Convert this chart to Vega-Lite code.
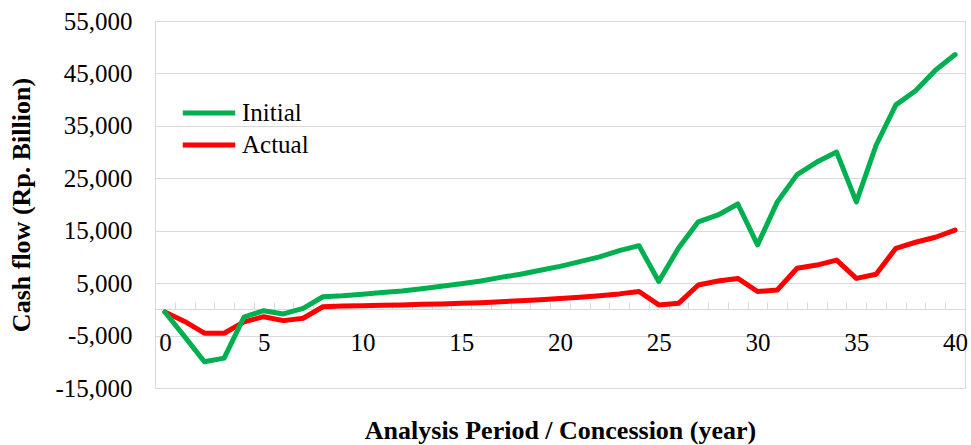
{
  "$schema": "https://vega.github.io/schema/vega-lite/v6.json",
  "width": 810,
  "height": 367,
  "autosize": {"type": "none"},
  "padding": {"left": 155, "top": 21, "right": 6, "bottom": 57},
  "background": "white",
  "config": {
    "view": {"stroke": "#d9d9d9", "strokeWidth": 1},
    "font": "Liberation Serif",
    "axis": {"labelFont": "Liberation Serif", "titleFont": "Liberation Serif", "labelColor": "black", "titleColor": "black"}
  },
  "data": {
    "values": [
      {"year": 0, "series": "Initial", "value": -500},
      {"year": 1, "series": "Initial", "value": -5200},
      {"year": 2, "series": "Initial", "value": -10000},
      {"year": 3, "series": "Initial", "value": -9300},
      {"year": 4, "series": "Initial", "value": -1500},
      {"year": 5, "series": "Initial", "value": -250},
      {"year": 6, "series": "Initial", "value": -870},
      {"year": 7, "series": "Initial", "value": 200},
      {"year": 8, "series": "Initial", "value": 2400},
      {"year": 9, "series": "Initial", "value": 2600},
      {"year": 10, "series": "Initial", "value": 2900},
      {"year": 11, "series": "Initial", "value": 3200},
      {"year": 12, "series": "Initial", "value": 3500},
      {"year": 13, "series": "Initial", "value": 3950},
      {"year": 14, "series": "Initial", "value": 4400},
      {"year": 15, "series": "Initial", "value": 4900},
      {"year": 16, "series": "Initial", "value": 5400},
      {"year": 17, "series": "Initial", "value": 6100},
      {"year": 18, "series": "Initial", "value": 6700},
      {"year": 19, "series": "Initial", "value": 7450},
      {"year": 20, "series": "Initial", "value": 8200},
      {"year": 21, "series": "Initial", "value": 9100},
      {"year": 22, "series": "Initial", "value": 10000},
      {"year": 23, "series": "Initial", "value": 11200},
      {"year": 24, "series": "Initial", "value": 12150},
      {"year": 25, "series": "Initial", "value": 5300},
      {"year": 26, "series": "Initial", "value": 11700},
      {"year": 27, "series": "Initial", "value": 16700},
      {"year": 28, "series": "Initial", "value": 18000},
      {"year": 29, "series": "Initial", "value": 20100},
      {"year": 30, "series": "Initial", "value": 12300},
      {"year": 31, "series": "Initial", "value": 20500},
      {"year": 32, "series": "Initial", "value": 25700},
      {"year": 33, "series": "Initial", "value": 28100},
      {"year": 34, "series": "Initial", "value": 30000},
      {"year": 35, "series": "Initial", "value": 20500},
      {"year": 36, "series": "Initial", "value": 31300},
      {"year": 37, "series": "Initial", "value": 39000},
      {"year": 38, "series": "Initial", "value": 41700},
      {"year": 39, "series": "Initial", "value": 45600},
      {"year": 40, "series": "Initial", "value": 48600},
      {"year": 0, "series": "Actual", "value": -500},
      {"year": 1, "series": "Actual", "value": -2300},
      {"year": 2, "series": "Actual", "value": -4550},
      {"year": 3, "series": "Actual", "value": -4550},
      {"year": 4, "series": "Actual", "value": -2400},
      {"year": 5, "series": "Actual", "value": -1400},
      {"year": 6, "series": "Actual", "value": -2150},
      {"year": 7, "series": "Actual", "value": -1700},
      {"year": 8, "series": "Actual", "value": 500},
      {"year": 9, "series": "Actual", "value": 650},
      {"year": 10, "series": "Actual", "value": 700},
      {"year": 11, "series": "Actual", "value": 780},
      {"year": 12, "series": "Actual", "value": 840},
      {"year": 13, "series": "Actual", "value": 970},
      {"year": 14, "series": "Actual", "value": 1030},
      {"year": 15, "series": "Actual", "value": 1160},
      {"year": 16, "series": "Actual", "value": 1280},
      {"year": 17, "series": "Actual", "value": 1470},
      {"year": 18, "series": "Actual", "value": 1660},
      {"year": 19, "series": "Actual", "value": 1850},
      {"year": 20, "series": "Actual", "value": 2050},
      {"year": 21, "series": "Actual", "value": 2300},
      {"year": 22, "series": "Actual", "value": 2600},
      {"year": 23, "series": "Actual", "value": 2950},
      {"year": 24, "series": "Actual", "value": 3400},
      {"year": 25, "series": "Actual", "value": 850},
      {"year": 26, "series": "Actual", "value": 1150},
      {"year": 27, "series": "Actual", "value": 4650},
      {"year": 28, "series": "Actual", "value": 5400},
      {"year": 29, "series": "Actual", "value": 5900},
      {"year": 30, "series": "Actual", "value": 3400},
      {"year": 31, "series": "Actual", "value": 3700},
      {"year": 32, "series": "Actual", "value": 7850},
      {"year": 33, "series": "Actual", "value": 8450},
      {"year": 34, "series": "Actual", "value": 9400},
      {"year": 35, "series": "Actual", "value": 5900},
      {"year": 36, "series": "Actual", "value": 6700},
      {"year": 37, "series": "Actual", "value": 11650},
      {"year": 38, "series": "Actual", "value": 12800},
      {"year": 39, "series": "Actual", "value": 13750},
      {"year": 40, "series": "Actual", "value": 15100}
    ]
  },
  "encoding": {
    "y": {
      "field": "value",
      "type": "quantitative",
      "scale": {"domain": [-15000, 55000], "nice": false, "zero": false},
      "axis": {
        "values": [-15000, -5000, 5000, 15000, 25000, 35000, 45000, 55000],
        "labelExpr": "(datum.value < 0 ? '-' : '') + format(abs(datum.value), ',d')",
        "grid": true,
        "gridColor": "#d9d9d9",
        "gridWidth": 1,
        "domain": false,
        "ticks": false,
        "labelFontSize": 25,
        "labelPadding": 23,
        "title": "Cash flow (Rp. Billion)",
        "titleFontSize": 26,
        "titleFontWeight": "bold",
        "titlePadding": 20
      }
    },
    "color": {
      "field": "series",
      "type": "nominal",
      "scale": {"domain": ["Initial", "Actual"], "range": ["#00b050", "#ff0000"]},
      "legend": {
        "title": null,
        "orient": "none",
        "legendX": 25,
        "legendY": 76,
        "symbolType": "stroke",
        "symbolSize": 2750,
        "symbolStrokeWidth": 5,
        "labelFontSize": 25,
        "labelFont": "Liberation Serif",
        "labelColor": "black",
        "labelOffset": 4,
        "clipHeight": 32,
        "rowPadding": 0
      }
    }
  },
  "layer": [
    {
      "transform": [{"filter": "datum.series === 'Actual'"}],
      "mark": {"type": "line", "strokeWidth": 5, "strokeJoin": "round", "strokeCap": "round"},
      "encoding": {
        "x": {
          "field": "year",
          "type": "quantitative",
          "scale": {"domain": [-0.5, 40.5], "nice": false, "zero": false},
          "axis": {
            "orient": "top",
            "offset": -288,
            "values": [-0.5, 0.5, 1.5, 2.5, 3.5, 4.5, 5.5, 6.5, 7.5, 8.5, 9.5, 10.5, 11.5, 12.5, 13.5, 14.5, 15.5, 16.5, 17.5, 18.5, 19.5, 20.5, 21.5, 22.5, 23.5, 24.5, 25.5, 26.5, 27.5, 28.5, 29.5, 30.5, 31.5, 32.5, 33.5, 34.5, 35.5, 36.5, 37.5, 38.5, 39.5, 40.5],
            "labels": false,
            "grid": false,
            "domain": true,
            "domainColor": "#d9d9d9",
            "domainWidth": 1,
            "ticks": true,
            "tickColor": "#d9d9d9",
            "tickSize": 7,
            "tickWidth": 1,
            "title": null
          }
        }
      }
    },
    {
      "transform": [{"filter": "datum.series === 'Initial'"}],
      "mark": {"type": "line", "strokeWidth": 5, "strokeJoin": "round", "strokeCap": "round"},
      "encoding": {
        "x": {
          "field": "year",
          "type": "quantitative",
          "scale": {"domain": [-0.5, 40.5], "nice": false, "zero": false},
          "axis": {
            "orient": "bottom",
            "offset": -79,
            "values": [0, 5, 10, 15, 20, 25, 30, 35, 40],
            "labelFontSize": 25,
            "labelPadding": 21,
            "labelFlush": false,
            "grid": false,
            "domain": false,
            "ticks": false,
            "title": "Analysis Period / Concession (year)",
            "titleFontSize": 26,
            "titleFontWeight": "bold",
            "titlePadding": 62
          }
        }
      }
    }
  ],
  "resolve": {"axis": {"x": "independent"}}
}
